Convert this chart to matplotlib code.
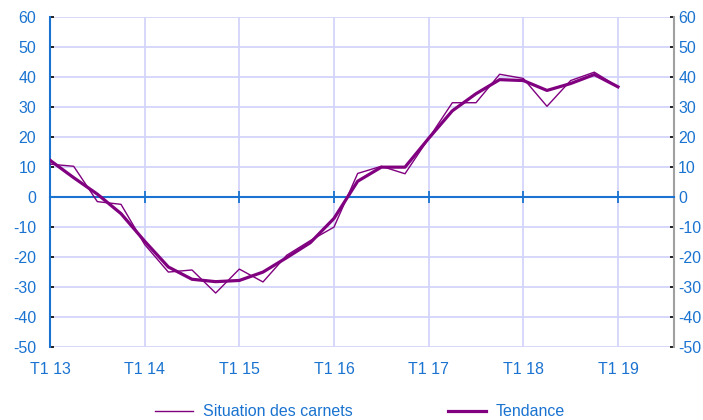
import matplotlib
matplotlib.use("Agg")
import matplotlib.pyplot as plt
import matplotlib.transforms as mtrans
import numpy as np

plt.rcParams['font.family'] = ['Liberation Sans', 'DejaVu Sans']

# Quarterly data, T1 2013 .. T1 2019
situation = [11, 10.3, -1.5, -2.4, -15.8, -25, -24.3, -32, -24, -28.3,
             -19.4, -14.5, -10, 7.9, 10.3, 7.8, 19.6, 31.5, 31.5, 41,
             39.6, 30.3, 38.9, 41.7, 36.8]
tendance = [12.3, 6.5, 1.0, -5.5, -14.7, -23.3, -27.4, -28.2, -27.8, -25,
            -20.2, -15.2, -7.1, 5.3, 10.0, 10.0, 19.6, 28.8, 34.5, 39.2,
            38.9, 35.6, 37.9, 40.9, 36.8]
year_labels = ['T1 13', 'T1 14', 'T1 15', 'T1 16', 'T1 17', 'T1 18', 'T1 19']
series_names = ['Situation des carnets', 'Tendance']

purple = '#800080'
blue = '#1a73d0'
grid_c = '#d4d4fa'
grey = '#a0a0a0'
fs = 11.5

fig = plt.figure(figsize=(7.03, 4.2), dpi=100)
ax = fig.add_axes([50/703, 1-347/420, (674.3-50)/703, (347-17.3)/420])

x = np.arange(len(situation))
l1, = ax.plot(x, situation, color=purple, lw=1.0, zorder=3)
l2, = ax.plot(x, tendance, color=purple, lw=2.3, zorder=4)

ax.set_xlim(0, 26.38)
ax.set_ylim(-50, 60)
yt = np.arange(-50, 61, 10)
ax.set_yticks(yt)
ax.set_yticklabels([str(v) for v in yt])
xt = np.arange(0, 25, 4)
ax.set_xticks(xt)
ax.set_xticklabels(year_labels)

ax.grid(True, color=grid_c, lw=1.3, zorder=0)
ax.set_axisbelow(True)

ax.spines['top'].set_visible(False)
ax.spines['left'].set_color(blue)
ax.spines['left'].set_linewidth(1.5)
ax.spines['right'].set_color(grey)
ax.spines['right'].set_linewidth(1.5)
# x axis drawn on the zero line, with crossing ticks
ax.spines['bottom'].set_position(('data', 0))
ax.spines['bottom'].set_color(blue)
ax.spines['bottom'].set_linewidth(1.5)
ax.spines['bottom'].set_zorder(2.5)
ax.tick_params(axis='x', direction='inout', length=9, width=1.3, color=blue,
               labelbottom=False)

# labels at the bottom of the plot via secondary axis
sec = ax.secondary_xaxis('bottom')
sec.set_xticks(xt)
sec.set_xticklabels(year_labels)
sec.spines['bottom'].set_visible(False)
sec.tick_params(length=0, pad=11, labelsize=fs, labelcolor=blue)

ax.tick_params(axis='y', which='both', left=True, right=True, labelleft=True,
               labelright=True, direction='in', length=3, width=1.2,
               labelsize=fs, labelcolor=blue, pad=10)
for t in ax.yaxis.get_major_ticks():
    t.tick1line.set_color(blue)
    t.tick2line.set_color(grey)

offset = mtrans.ScaledTranslation(-10/100, 0, fig.dpi_scale_trans)
for t in ax.yaxis.get_major_ticks():
    t.label2.set_transform(t.label2.get_transform() + offset)

fig.legend([l1, l2], series_names, loc='center', bbox_to_anchor=(360/703, 0.02),
           ncol=2, frameon=False, fontsize=fs, handlelength=2.4,
           handletextpad=0.6, columnspacing=6.0, labelcolor=blue)

fig.savefig('out.png', dpi=100)
